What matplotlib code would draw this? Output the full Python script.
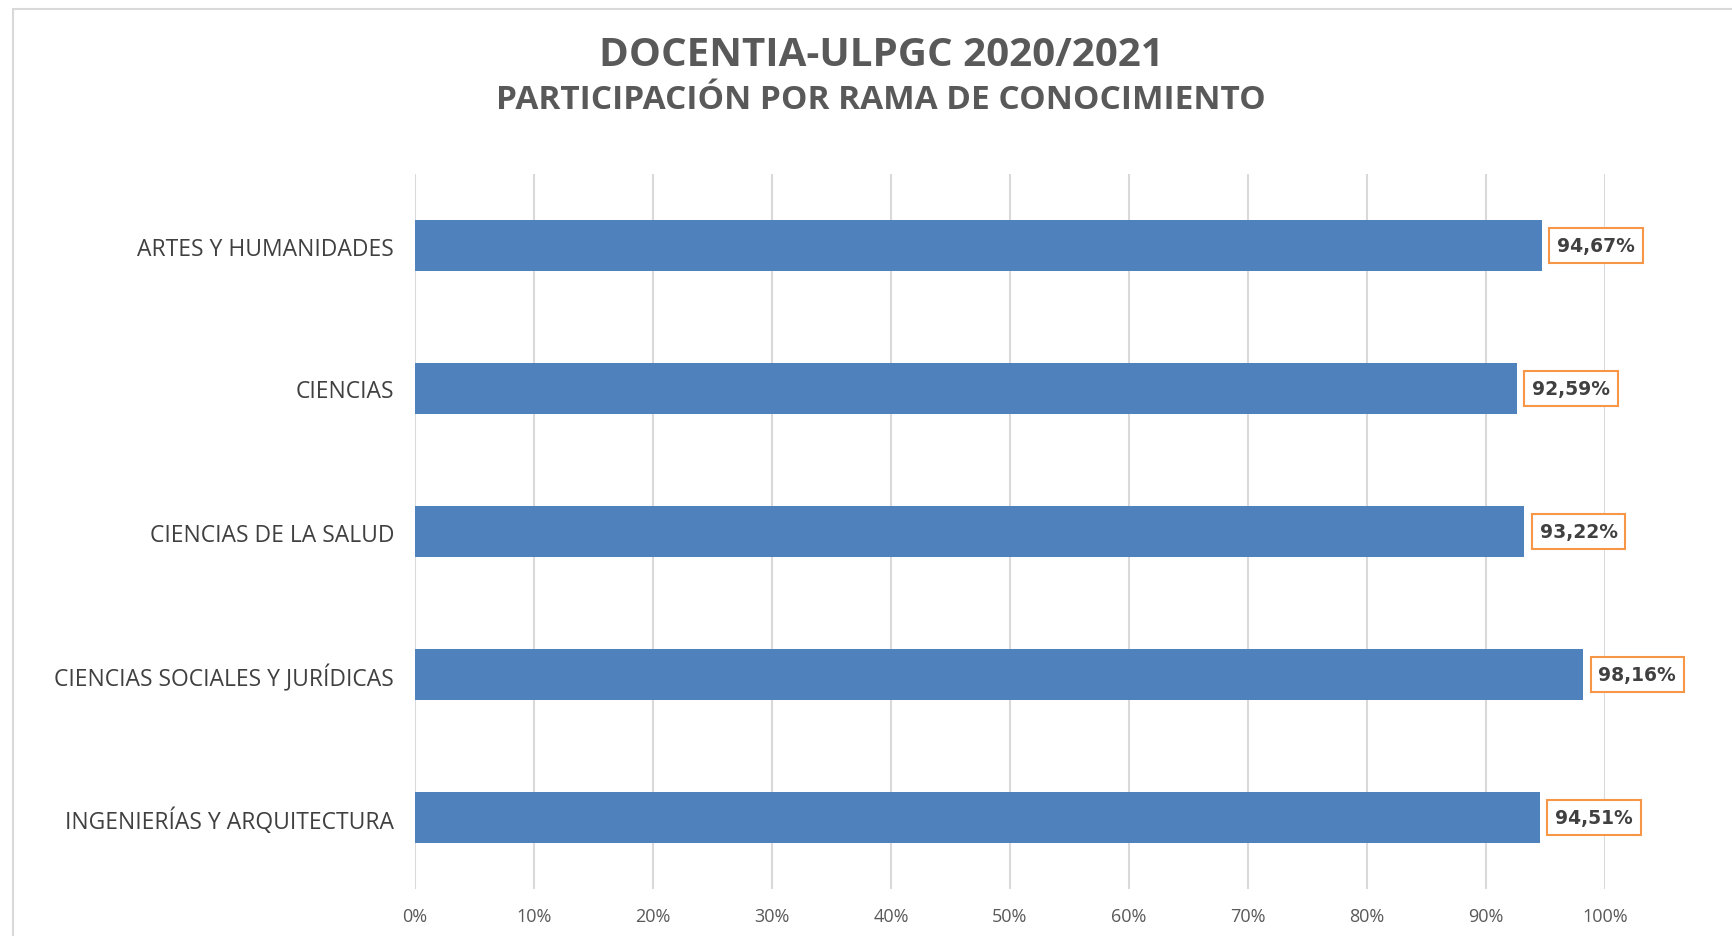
import numpy as np
import matplotlib.pyplot as plt
from matplotlib.patches import Rectangle

categories = ["ARTES Y HUMANIDADES", "CIENCIAS", "CIENCIAS DE LA SALUD",
              "CIENCIAS SOCIALES Y JURÍDICAS", "INGENIERÍAS Y ARQUITECTURA"]
values = [94.67, 92.59, 93.22, 98.16, 94.51]
xticks = [0, 10, 20, 30, 40, 50, 60, 70, 80, 90, 100]

W, H = 1733, 937
fig = plt.figure(figsize=(W / 100, H / 100), dpi=100)
fig.patch.set_facecolor("white")

# outer chart border (cut on the right and bottom)
fig.patches.append(Rectangle((13 / W, -0.05), 1.2, 1 - 10 / H + 0.05,
                             transform=fig.transFigure, fill=False,
                             edgecolor="#D9D9D9", linewidth=1.5))

ax = fig.add_axes([415 / W, 1 - 890 / H, 1190 / W, 715 / H])

y = np.arange(len(categories))
ax.barh(y, values, height=0.35, color="#4F81BD", zorder=3)

for yi, v in zip(y, values):
    txt = f"{v:.2f}%".replace(".", ",")
    ax.annotate(txt, (v, yi), xytext=(11, 0), textcoords="offset points",
                va="center", ha="left", fontsize=13.5, fontweight="bold",
                color="#404040", family="DejaVu Sans", zorder=4,
                bbox=dict(boxstyle="square,pad=0.42", fc="white",
                          ec="#F79646", lw=1.5))

ax.set_xlim(0, 100)
ax.set_ylim(len(categories) - 0.5, -0.5)
ax.set_xticks(xticks)
ax.set_xticklabels([f"{t}%" for t in xticks], color="#595959", fontsize=13,
                   family="Open Sans")
ax.set_yticks(y)
ax.set_yticklabels(categories, color="#404040", fontsize=16.5, family="Open Sans")
ax.tick_params(axis="both", length=0)
ax.tick_params(axis="x", pad=13)
ax.tick_params(axis="y", pad=15)
ax.grid(axis="x", color="#D9D9D9", linewidth=1.5, zorder=0)
for s in ax.spines.values():
    s.set_visible(False)

fig.text(881 / W, 1 - 55 / H, "DOCENTIA-ULPGC 2020/2021", ha="center",
         va="center", fontsize=29, fontweight="bold", color="#595959",
         family="Open Sans")
fig.text(881 / W, 1 - 101 / H, "PARTICIPACIÓN POR RAMA DE CONOCIMIENTO",
         ha="center", va="center", fontsize=24, fontweight="bold",
         color="#595959", family="Open Sans")

fig.savefig("out.png", dpi=100)
